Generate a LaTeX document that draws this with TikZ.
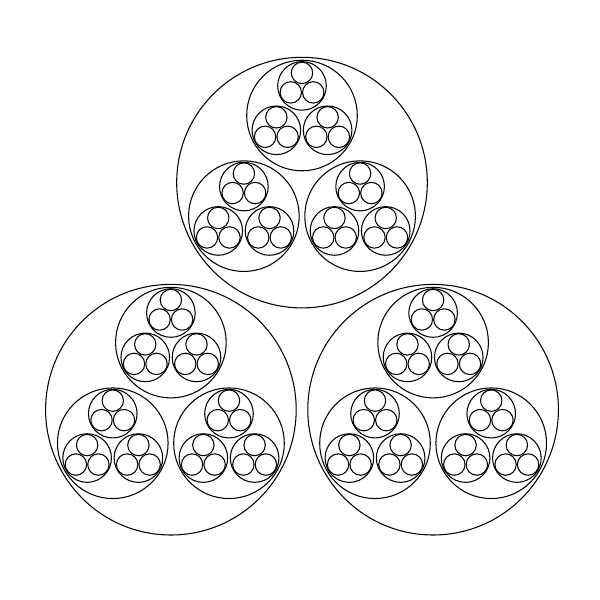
\documentclass[tikz,border=0pt]{standalone}
\usepackage{tikz}
\tikzset{
  ring/.style={draw=black,line width=0.6pt},
}
\begin{document}
\begin{tikzpicture}[x=0.02cm,y=0.02cm]
    \useasboundingbox (0,0) rectangle (600,600);
    % three levels of three, each inside the previous one
    \begin{scope}[shift={(302,266)}]
      \foreach \a in {90,210,330}{
        \begin{scope}[shift={(\a:151.4)}]
          \draw[ring] (0,0) circle[radius=125.3];
          \foreach \b in {90,210,330}{
            \begin{scope}[shift={(\b:67.1)}]
              \draw[ring] (0,0) circle[radius=55.3];
              \foreach \c in {90,210,330}{
                \begin{scope}[shift={(\c:29.6)}]
                  \draw[ring] (0,0) circle[radius=24.3];
                  \foreach \d in {90,210,330}
                    \draw[ring] (\d:13.0) circle[radius=10.7];
                \end{scope}
              }
            \end{scope}
          }
        \end{scope}
      }
    \end{scope}
\end{tikzpicture}
\end{document}
